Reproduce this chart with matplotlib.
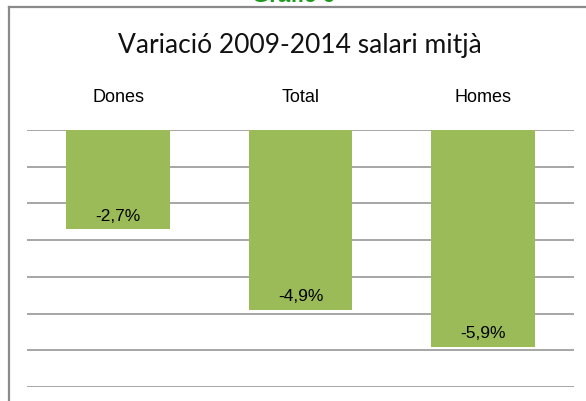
import matplotlib.pyplot as plt
from matplotlib.lines import Line2D

categories = ["Dones", "Total", "Homes"]
values = [-2.7, -4.9, -5.9]
value_labels = ["-2,7%", "-4,9%", "-5,9%"]

W, H = 586, 401
fig = plt.figure(figsize=(W / 100, H / 100), dpi=100)
fig.patch.set_facecolor("white")

# outer frame (top and left edges visible)
fig.add_artist(Line2D([9 / W, 1.0], [1 - 7.3 / H, 1 - 7.3 / H], color="#8a8a8a", lw=1.6))
fig.add_artist(Line2D([9.5 / W, 9.5 / W], [0, 1 - 7.3 / H], color="#8a8a8a", lw=1.6))

# green heading, mostly cut off at the top (as in the source)
fig.text(293 / W, 1 - 2.5 / H, "Gràfic 6", ha="center", va="baseline",
         color="#1f9a1f", fontsize=16, fontweight="bold", family="Liberation Sans")

fig.text(300 / W, 1 - 46 / H, "Variació 2009-2014 salari mitjà", ha="center", va="center",
         fontsize=19, family="Lato", color="#111111")

ax = fig.add_axes([27 / W, 14 / H, (574 - 27) / W, (387 - 130) / H])
ax.bar(range(len(values)), values, width=0.57, color="#9BBB59", zorder=2)
ax.set_xlim(-0.5, 2.5)
ax.set_ylim(-7, 0)
ax.set_yticks(range(-7, 1))
ax.yaxis.grid(True, color="#a6a6a6", lw=1.4)
ax.tick_params(left=False, labelleft=False)
ax.xaxis.tick_top()
ax.set_xticks(range(len(categories)))
ax.set_xticklabels(categories, fontsize=13, family="Liberation Sans")
ax.tick_params(axis="x", length=0, pad=17)
for s in ax.spines.values():
    s.set_visible(False)

for i, (v, lab) in enumerate(zip(values, value_labels)):
    ax.annotate(lab, (i, v), xytext=(0, 4), textcoords="offset points",
                ha="center", va="bottom", fontsize=12.5, family="Liberation Sans", zorder=3)

fig.savefig("out.png", dpi=100)
